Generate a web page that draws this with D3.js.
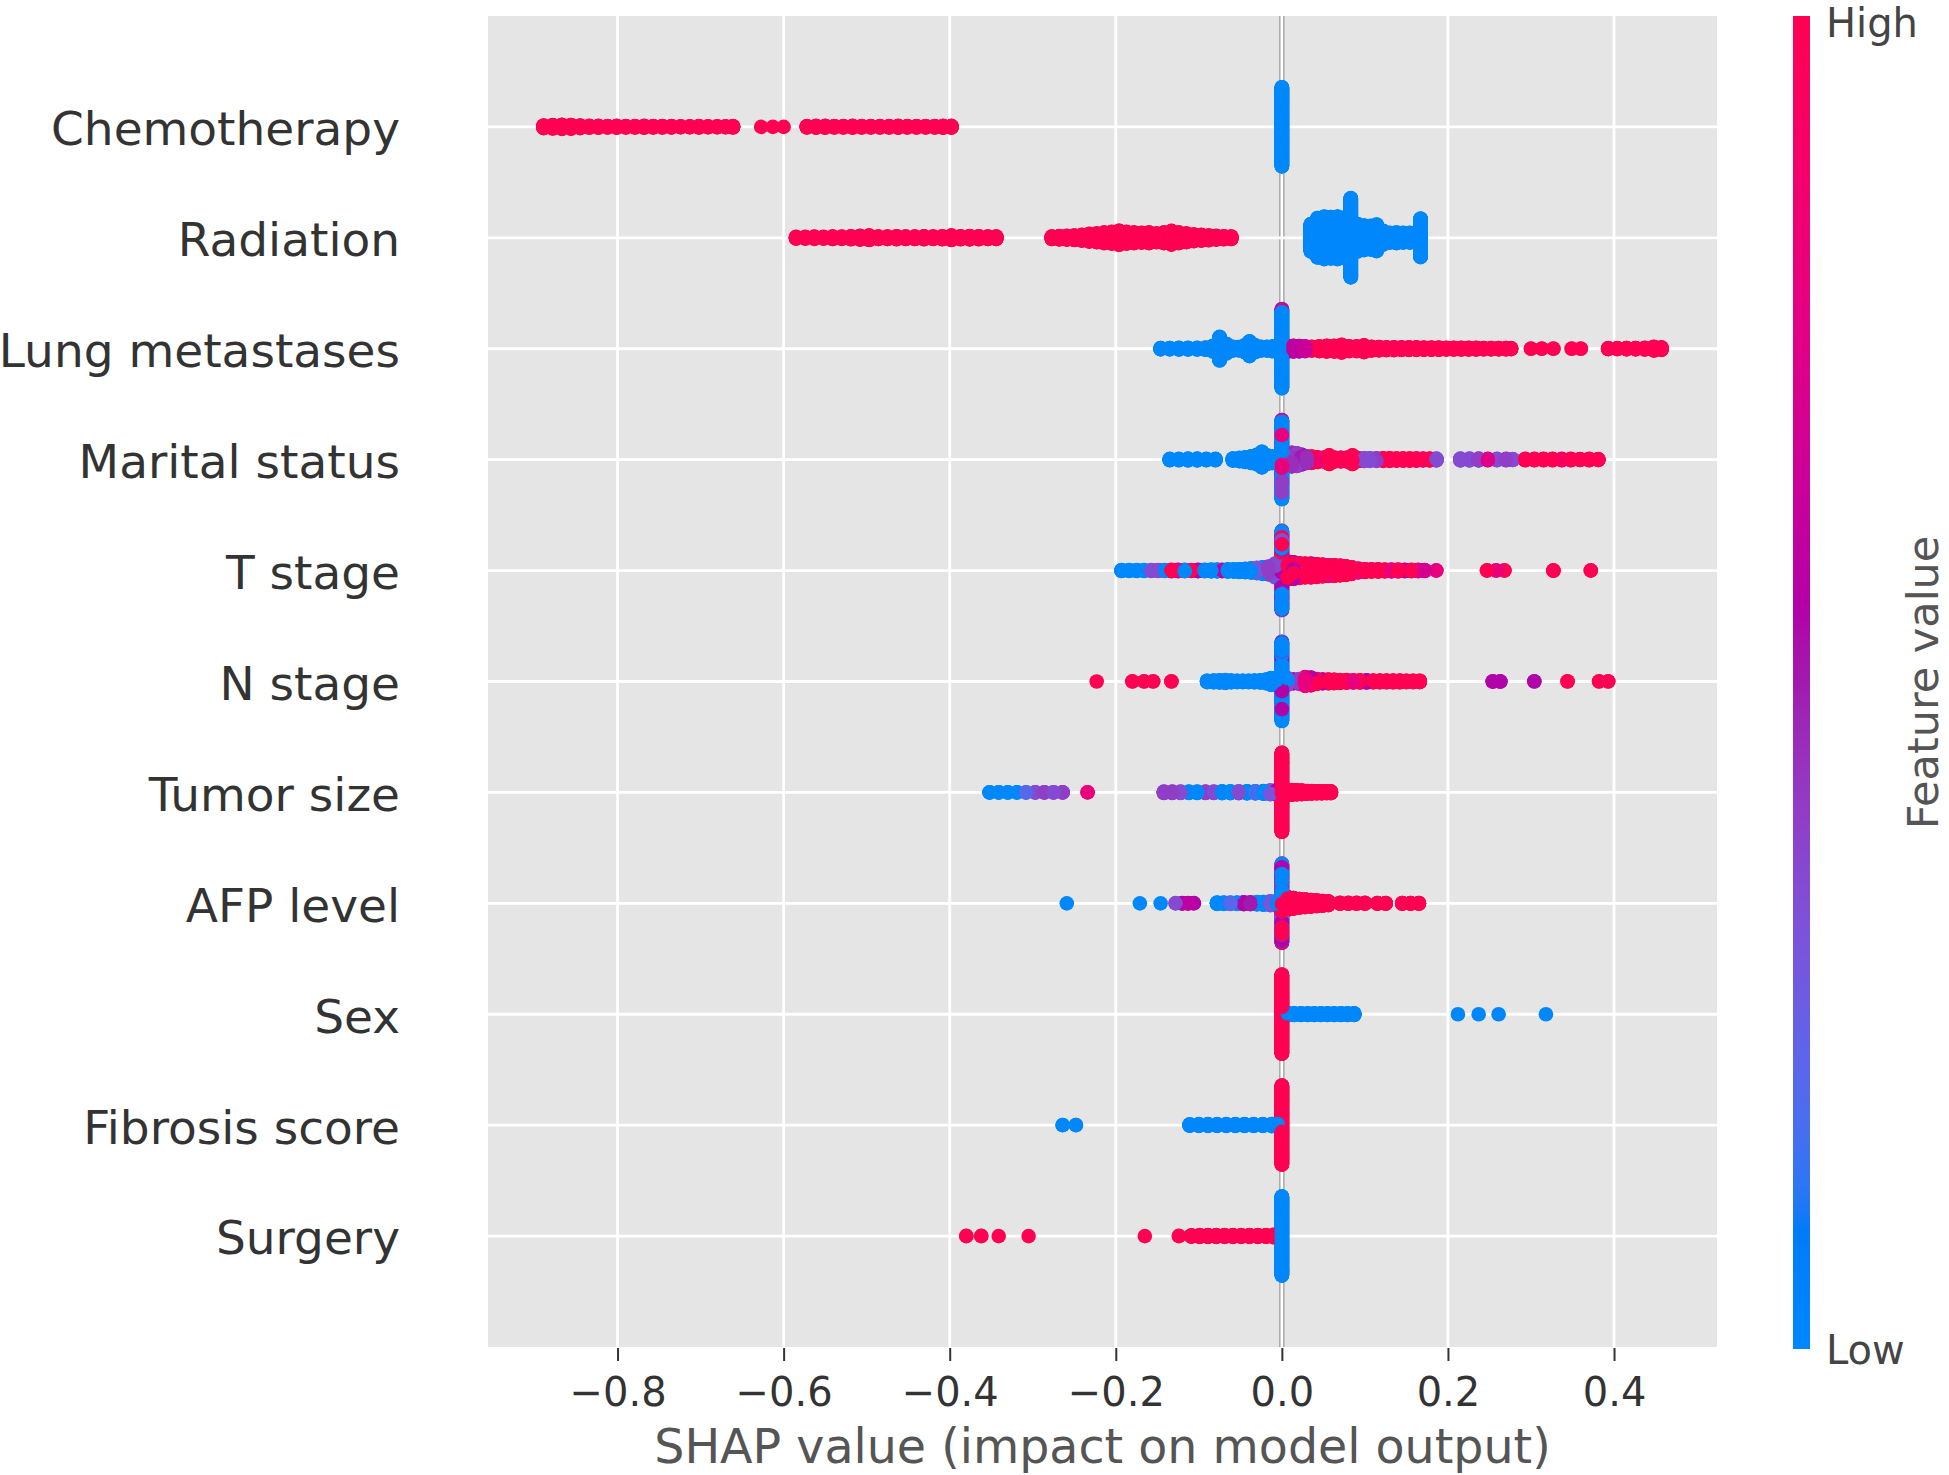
<!DOCTYPE html>
<html>
<head>
<meta charset="utf-8">
<script src="https://cdn.jsdelivr.net/npm/d3@7"></script>
<style>
  html, body { margin: 0; padding: 0; background: #ffffff; }
  svg { display: block; }
  text { font-family: "DejaVu Sans", sans-serif; }
</style>
</head>
<body>
<svg id="chart" width="1949" height="1475"></svg>
<script>
// ---------------- DATA ----------------
// Each entry: [SHAP value, normalised feature value (0 = low, 1 = high), number of samples]
const features = ["Chemotherapy", "Radiation", "Lung metastases", "Marital status", "T stage",
  "N stage", "Tumor size", "AFP level", "Sex", "Fibrosis score", "Surgery"];
const xTicks = [-0.8, -0.6, -0.4, -0.2, 0.0, 0.2, 0.4];
const colorbarLabels = ["Low", "High"];
const xLabel = "SHAP value (impact on model output)";
const colorbarTitle = "Feature value";

const chemotherapy = [
  [0.000, 0, 400],
  [-0.889, 1, 14], [-0.878, 1, 18], [-0.867, 1, 22], [-0.856, 1, 20], [-0.845, 1, 14], [-0.834, 1, 10],
  [-0.823, 1, 10], [-0.812, 1, 8], [-0.801, 1, 10], [-0.790, 1, 8], [-0.779, 1, 8], [-0.768, 1, 10],
  [-0.757, 1, 8], [-0.746, 1, 8], [-0.735, 1, 8], [-0.724, 1, 6], [-0.713, 1, 6], [-0.702, 1, 8],
  [-0.691, 1, 6], [-0.680, 1, 6], [-0.670, 1, 6], [-0.661, 1, 8],
  [-0.627, 1, 1], [-0.613, 1, 1], [-0.600, 1, 1],
  [-0.572, 1, 8], [-0.561, 1, 10], [-0.550, 1, 10], [-0.539, 1, 8], [-0.528, 1, 8], [-0.517, 1, 10],
  [-0.506, 1, 8], [-0.495, 1, 8], [-0.484, 1, 8], [-0.473, 1, 8], [-0.462, 1, 10], [-0.451, 1, 8],
  [-0.440, 1, 8], [-0.429, 1, 8], [-0.418, 1, 8], [-0.408, 1, 10], [-0.398, 1, 10]
];

const radiation = [
  [-0.585, 1, 10], [-0.574, 1, 10], [-0.563, 1, 12], [-0.552, 1, 10], [-0.541, 1, 14], [-0.530, 1, 12],
  [-0.519, 1, 16], [-0.508, 1, 20], [-0.497, 1, 24], [-0.486, 1, 14], [-0.475, 1, 14], [-0.464, 1, 16],
  [-0.453, 1, 14], [-0.442, 1, 14], [-0.431, 1, 16], [-0.420, 1, 14], [-0.409, 1, 16], [-0.398, 1, 24],
  [-0.387, 1, 16], [-0.376, 1, 18], [-0.365, 1, 16], [-0.354, 1, 14], [-0.344, 1, 14],
  [-0.277, 1, 14], [-0.268, 1, 18], [-0.259, 1, 20], [-0.250, 1, 24], [-0.241, 1, 30], [-0.232, 1, 40],
  [-0.223, 1, 45], [-0.214, 1, 55], [-0.205, 1, 60], [-0.196, 1, 72], [-0.187, 1, 60], [-0.178, 1, 55],
  [-0.169, 1, 50], [-0.160, 1, 55], [-0.151, 1, 45], [-0.142, 1, 55], [-0.133, 1, 70], [-0.124, 1, 55],
  [-0.115, 1, 45], [-0.106, 1, 35], [-0.097, 1, 30], [-0.088, 1, 25], [-0.079, 1, 20], [-0.070, 1, 16],
  [-0.061, 1, 14],
  [0.035, 0, 140], [0.043, 0, 200], [0.051, 0, 215], [0.059, 0, 210], [0.067, 0, 215], [0.075, 0, 205],
  [0.083, 0, 400], [0.091, 0, 140], [0.099, 0, 125], [0.107, 0, 120], [0.114, 0, 135], [0.122, 0, 70],
  [0.130, 0, 50], [0.138, 0, 55], [0.146, 0, 50], [0.154, 0, 50], [0.161, 0, 45], [0.167, 0, 195]
];

const lungMetastases = [
  [-0.146, 0, 8], [-0.135, 0, 8], [-0.124, 0, 10], [-0.113, 0, 10], [-0.102, 0, 10], [-0.092, 0, 12],
  [-0.083, 0, 30], [-0.075, 0, 120], [-0.067, 0, 50], [-0.059, 0, 20], [-0.052, 0, 18], [-0.045, 0, 35],
  [-0.039, 0, 75], [-0.032, 0, 35], [-0.025, 0, 20], [-0.018, 0, 20], [-0.011, 0, 25], [-0.005, 0, 30],
  [0.000, 0, 380], [0.000, 0.75, 20],
  [0.007, 0.55, 30], [0.014, 0.6, 30], [0.021, 0.55, 28], [0.028, 0.65, 25],
  [0.036, 1, 20], [0.045, 1, 25], [0.054, 1, 30], [0.063, 1, 30], [0.072, 1, 40], [0.081, 1, 25],
  [0.090, 1, 25], [0.099, 1, 35], [0.108, 1, 20], [0.117, 1, 18], [0.126, 1, 15], [0.135, 1, 15],
  [0.144, 1, 14], [0.153, 1, 14], [0.162, 1, 14], [0.171, 1, 12], [0.180, 1, 12], [0.189, 1, 12],
  [0.198, 1, 10], [0.207, 1, 10], [0.216, 1, 10], [0.225, 1, 10], [0.234, 1, 10], [0.243, 1, 8],
  [0.252, 1, 8], [0.261, 1, 8], [0.270, 1, 8], [0.276, 1, 6],
  [0.300, 1, 2], [0.313, 1, 2], [0.327, 1, 2], [0.349, 1, 2], [0.360, 1, 2],
  [0.393, 1, 6], [0.404, 1, 6], [0.415, 1, 8], [0.426, 1, 8], [0.437, 1, 10], [0.448, 1, 20], [0.457, 1, 14]
];

const maritalStatus = [
  [-0.135, 0, 8], [-0.124, 0, 8], [-0.113, 0, 10], [-0.102, 0, 10], [-0.091, 0, 8], [-0.080, 0, 8],
  [-0.059, 0, 12], [-0.051, 0, 18], [-0.044, 0, 25], [-0.037, 0, 35], [-0.030, 0, 50], [-0.024, 0, 80],
  [-0.018, 0, 45], [-0.011, 0, 35], [-0.005, 0, 30],
  [0.000, 0, 320], [0.000, 0.4, 40], [0.000, 0.8, 40],
  [0.006, 0.4, 60], [0.012, 0.45, 70], [0.018, 0.4, 65], [0.024, 0.5, 50], [0.030, 0.45, 35],
  [0.036, 1, 25], [0.036, 0.8, 8], [0.043, 1, 25], [0.050, 0.85, 20], [0.057, 1, 45], [0.064, 1, 20],
  [0.071, 0.9, 20], [0.078, 1, 20], [0.085, 1, 45], [0.092, 1, 15],
  [0.099, 0.35, 15], [0.106, 0.35, 14], [0.114, 0.4, 14], [0.122, 1, 14], [0.130, 1, 14], [0.138, 1, 12],
  [0.146, 1, 12], [0.154, 1, 12], [0.162, 1, 12], [0.170, 0.9, 10], [0.178, 1, 10], [0.186, 0.35, 10],
  [0.215, 0.35, 10], [0.226, 0.35, 10], [0.237, 0.4, 10], [0.248, 0.75, 8], [0.259, 0.35, 8],
  [0.270, 0.4, 8], [0.278, 0.35, 6],
  [0.293, 1, 8], [0.304, 1, 8], [0.315, 1, 8], [0.326, 1, 8], [0.337, 0.9, 8], [0.348, 1, 8],
  [0.359, 1, 6], [0.370, 1, 8], [0.381, 1, 6]
];

const tStage = [
  [-0.193, 0, 6], [-0.184, 0, 6], [-0.175, 0, 6], [-0.166, 0, 6], [-0.157, 0.35, 6], [-0.149, 0.35, 6],
  [-0.141, 0, 6], [-0.133, 1, 8], [-0.125, 0.8, 8], [-0.117, 0, 8], [-0.109, 1, 6], [-0.101, 0.55, 8],
  [-0.093, 0, 8], [-0.085, 0, 10], [-0.078, 0, 10], [-0.072, 0.6, 8], [-0.065, 0, 12], [-0.058, 0, 12],
  [-0.051, 0, 15], [-0.044, 0, 18], [-0.037, 0, 22], [-0.030, 0.3, 28], [-0.023, 0, 35], [-0.016, 0.4, 40],
  [-0.008, 0.35, 50], [-0.008, 0, 20],
  [0.000, 0, 200], [0.000, 0.55, 120], [0.000, 1, 40], [0.000, 0.3, 40],
  [0.007, 0.6, 50], [0.007, 1, 40], [0.014, 1, 60], [0.014, 0.55, 25], [0.021, 1, 60], [0.021, 0.8, 15],
  [0.028, 1, 70], [0.035, 1, 50], [0.035, 0.6, 20], [0.042, 1, 65], [0.049, 1, 60], [0.056, 0.8, 55],
  [0.063, 1, 55], [0.070, 1, 50], [0.077, 1, 45], [0.084, 1, 35], [0.092, 0.85, 20], [0.100, 1, 15],
  [0.108, 1, 12], [0.116, 1, 12], [0.124, 1, 10], [0.132, 0.8, 10], [0.140, 1, 10], [0.148, 0.6, 8],
  [0.156, 1, 8], [0.164, 0.75, 8], [0.172, 0.7, 6],
  [0.186, 0.8, 2], [0.247, 1, 2], [0.258, 0.8, 2], [0.268, 1, 2], [0.327, 1, 3], [0.372, 1, 2]
];

const nStage = [
  [-0.223, 1, 1], [-0.180, 1, 2], [-0.166, 1, 2], [-0.155, 1, 2], [-0.133, 1, 2],
  [-0.090, 0, 8], [-0.082, 0, 10], [-0.075, 0, 12], [-0.068, 0, 15], [-0.061, 0, 10], [-0.054, 0, 8],
  [-0.047, 0, 8], [-0.040, 0, 8], [-0.033, 0, 10], [-0.026, 0, 12], [-0.019, 0, 20], [-0.013, 0, 35],
  [-0.007, 0, 35],
  [0.000, 0, 340], [0.000, 0.55, 40], [0.000, 0.35, 20],
  [0.007, 0.35, 25], [0.007, 0, 8], [0.014, 0.55, 20], [0.021, 0.4, 25], [0.028, 0.8, 45], [0.035, 0.55, 25],
  [0.035, 1, 15], [0.042, 1, 25], [0.049, 0.55, 20], [0.056, 1, 20], [0.063, 1, 18], [0.070, 1, 15],
  [0.078, 1, 14], [0.086, 0.8, 12], [0.094, 1, 12], [0.102, 0.55, 12], [0.110, 1, 10], [0.118, 1, 10],
  [0.126, 1, 10], [0.134, 1, 10], [0.142, 1, 10], [0.150, 1, 8], [0.158, 1, 8], [0.166, 1, 8],
  [0.254, 0.55, 3], [0.263, 0.55, 3], [0.304, 0.55, 2], [0.344, 1, 2], [0.382, 1, 2], [0.393, 1, 2]
];

const tumorSize = [
  [-0.352, 0, 3], [-0.341, 0, 3], [-0.330, 0, 3], [-0.319, 0, 3], [-0.308, 0.2, 3], [-0.297, 0.35, 3],
  [-0.286, 0.4, 3], [-0.275, 0.35, 3], [-0.264, 0.4, 3], [-0.234, 0.8, 2],
  [-0.142, 0.4, 8], [-0.132, 0.4, 8], [-0.122, 0.35, 8], [-0.112, 0, 8], [-0.102, 0, 8], [-0.092, 0.4, 8],
  [-0.082, 0.35, 8], [-0.072, 0, 10], [-0.062, 0, 10], [-0.052, 0.35, 10], [-0.042, 0, 12],
  [-0.032, 0.15, 12], [-0.022, 0, 15], [-0.014, 0.3, 20], [-0.006, 0.6, 25],
  [0.000, 1, 380], [0.000, 0.8, 20],
  [0.006, 1, 30], [0.012, 1, 25], [0.018, 1, 22], [0.024, 1, 20], [0.030, 1, 15], [0.036, 1, 14],
  [0.042, 1, 12], [0.048, 1, 12], [0.054, 1, 10], [0.059, 1, 10]
];

const afpLevel = [
  [-0.259, 0, 1], [-0.171, 0, 1], [-0.146, 0, 1], [-0.128, 0.35, 2], [-0.120, 0.55, 3], [-0.113, 0.6, 3],
  [-0.106, 0.55, 2],
  [-0.078, 0, 8], [-0.070, 0, 8], [-0.062, 0.2, 8], [-0.054, 0, 8], [-0.046, 0.55, 10], [-0.038, 0.5, 10],
  [-0.030, 0, 12], [-0.022, 0, 15], [-0.014, 0.3, 20], [-0.006, 0, 25],
  [0.000, 0, 150], [0.000, 1, 120], [0.000, 0.55, 90], [0.000, 0.3, 40],
  [0.007, 1, 55], [0.007, 0.8, 10], [0.014, 1, 55], [0.021, 1, 45], [0.028, 1, 40], [0.035, 1, 35],
  [0.042, 1, 30], [0.049, 1, 25], [0.056, 1, 20],
  [0.070, 1, 6], [0.080, 1, 6], [0.090, 1, 6], [0.100, 1, 6], [0.115, 1, 5], [0.125, 1, 5],
  [0.145, 1, 5], [0.155, 1, 5], [0.165, 1, 5]
];

const sex = [
  [0.000, 1, 396], [0.000, 0, 4],
  [0.007, 0, 14], [0.015, 0, 10], [0.023, 0, 10], [0.031, 0, 10], [0.039, 0, 10], [0.047, 0, 10],
  [0.055, 0, 10], [0.063, 0, 10], [0.071, 0, 10], [0.079, 0, 10], [0.087, 0, 10],
  [0.212, 0, 1], [0.237, 0, 1], [0.261, 0, 1], [0.318, 0, 1]
];

const fibrosisScore = [
  [-0.264, 0, 2], [-0.248, 0, 2],
  [-0.111, 0, 8], [-0.100, 0, 10], [-0.089, 0, 10], [-0.078, 0, 10], [-0.067, 0, 10], [-0.056, 0, 10],
  [-0.045, 0, 10], [-0.034, 0, 10], [-0.023, 0, 10], [-0.012, 0, 12], [-0.005, 0, 12],
  [0.000, 1, 400]
];

const surgery = [
  [-0.380, 1, 2], [-0.362, 1, 2], [-0.341, 1, 1], [-0.305, 1, 1], [-0.165, 1, 1], [-0.124, 1, 2],
  [-0.109, 1, 8], [-0.099, 1, 10], [-0.089, 1, 10], [-0.079, 1, 10], [-0.069, 1, 10], [-0.059, 1, 10],
  [-0.049, 1, 10], [-0.039, 1, 10], [-0.029, 1, 10], [-0.019, 1, 10], [-0.010, 1, 12],
  [0.000, 0, 400]
];

const rowsData = [chemotherapy, radiation, lungMetastases, maritalStatus, tStage, nStage,
  tumorSize, afpLevel, sex, fibrosisScore, surgery];

// ---------------- LAYOUT ----------------
const W = 1949, H = 1475;
const plot = { left: 488, right: 1717, top: 16, bottom: 1347 };
const nRows = features.length;

const svg = d3.select("#chart");

const x = d3.scaleLinear().domain([-0.956, 0.524]).range([plot.left, plot.right]);
// SHAP-style y: row positions 0..n-1 from bottom, limits -1..n
const y = d3.scaleLinear().domain([-1, nRows]).range([plot.bottom, plot.top]);

// SHAP red-blue colormap (LCh interpolation)
function shapColor(t) {
  t = Math.max(0, Math.min(1, t));
  const l = t < 0.5 ? 54 + (40 - 54) * (t / 0.5) : 40 + (54 - 40) * ((t - 0.5) / 0.5);
  const c = 70 + 20 * t;
  const h0 = 4.6588, h1 = 0.35470565 + 2 * Math.PI;
  const h = (h0 + (h1 - h0) * t) * 180 / Math.PI;
  return d3.hcl(h, c, l).formatHex();
}

// deterministic pseudo-shuffle key (draw order only)
function hashKey(i, seed) {
  let v = (Math.imul(i + 1, 2654435761) ^ seed) >>> 0;
  v = Math.imul(v ^ (v >>> 16), 0x45d9f3b) >>> 0;
  v = Math.imul(v ^ (v >>> 16), 0x45d9f3b) >>> 0;
  return (v ^ (v >>> 16)) >>> 0;
}

// background
svg.append("rect").attr("x", 0).attr("y", 0).attr("width", W).attr("height", H).attr("fill", "#ffffff");
svg.append("rect")
  .attr("x", plot.left).attr("y", plot.top)
  .attr("width", plot.right - plot.left).attr("height", plot.bottom - plot.top)
  .attr("fill", "#e5e5e5");

// zero line (below grid)
svg.append("line")
  .attr("x1", x(0)).attr("x2", x(0)).attr("y1", plot.top).attr("y2", plot.bottom)
  .attr("stroke", "#999999").attr("stroke-width", 5.2);

// grid
const grid = svg.append("g");
grid.selectAll("line.vx").data(xTicks).join("line")
  .attr("x1", d => x(d)).attr("x2", d => x(d))
  .attr("y1", plot.top).attr("y2", plot.bottom)
  .attr("stroke", "#ffffff").attr("stroke-width", 2.8);
grid.selectAll("line.hy").data(d3.range(nRows)).join("line")
  .attr("x1", plot.left).attr("x2", plot.right)
  .attr("y1", d => y(d)).attr("y2", d => y(d))
  .attr("stroke", "#ffffff").attr("stroke-width", 2.8);

// beeswarm points
const dots = svg.append("g");
rowsData.forEach((entries, rowIdx) => {
  const pos = nRows - 1 - rowIdx;
  const pts = [];
  entries.forEach(([s, fv, n]) => { for (let k = 0; k < n; k++) pts.push({ s, fv }); });
  pts.forEach((p, i) => { p.key = hashKey(i, 0x9e3779b9 + rowIdx * 7919); p.drawKey = hashKey(i, 0x85ebca6b + rowIdx * 104729); });
  const mn = d3.min(pts, p => p.s), mx = d3.max(pts, p => p.s);
  const nbins = 100;
  pts.forEach(p => { p.q = Math.round(nbins * (p.s - mn) / (mx - mn + 1e-8)); });
  const sorted = pts.slice().sort((a, b) => a.q - b.q || a.key - b.key);
  let layer = 0, lastBin = -1;
  sorted.forEach(p => {
    if (p.q !== lastBin) layer = 0;
    p.ys = Math.ceil(layer / 2) * ((layer % 2) * 2 - 1);
    layer += 1;
    lastBin = p.q;
  });
  const maxYs = d3.max(pts, p => p.ys + 1);
  const f = 0.9 * (0.4 / maxYs);
  pts.forEach(p => { p.ys *= f; });
  pts.sort((a, b) => a.drawKey - b.drawKey);
  dots.append("g").selectAll("circle").data(pts).join("circle")
    .attr("cx", p => x(p.s))
    .attr("cy", p => y(pos + p.ys))
    .attr("r", 7.3)
    .attr("fill", p => shapColor(p.fv));
});

// x axis
const xAxis = d3.axisBottom(x).tickValues(xTicks).tickFormat(d3.format(".1f")).tickSize(13).tickPadding(0);
const gx = svg.append("g").attr("transform", `translate(0,${plot.bottom + 1})`).call(xAxis);
gx.select(".domain").remove();
gx.selectAll(".tick line").attr("stroke", "#333333").attr("stroke-width", 2);
gx.selectAll(".tick text")
  .attr("y", 58).attr("dy", 0)
  .attr("fill", "#333333")
  .style("font-family", "'DejaVu Sans', sans-serif")
  .style("font-size", "40px");

svg.append("text")
  .attr("x", (plot.left + plot.right) / 2).attr("y", 1463)
  .attr("text-anchor", "middle")
  .attr("fill", "#555555")
  .style("font-size", "47.5px")
  .text(xLabel);

// y labels
const yAxis = d3.axisLeft(y).tickValues(d3.range(nRows)).tickFormat(d => features[nRows - 1 - d]).tickSize(0).tickPadding(plot.left - 400);
const gy = svg.append("g").attr("transform", `translate(${plot.left},0)`).call(yAxis);
gy.select(".domain").remove();
gy.selectAll(".tick text")
  .attr("dy", "0.38em")
  .attr("fill", "#333333")
  .style("font-family", "'DejaVu Sans', sans-serif")
  .style("font-size", "47px");

// colorbar
const cb = { x: 1793, w: 17, top: 16, bottom: 1349 };
const defs = svg.append("defs");
const grad = defs.append("linearGradient").attr("id", "cbgrad")
  .attr("x1", 0).attr("y1", 1).attr("x2", 0).attr("y2", 0);
d3.range(0, 101).forEach(i => {
  grad.append("stop").attr("offset", (i / 100)).attr("stop-color", shapColor(i / 100));
});
svg.append("rect")
  .attr("x", cb.x).attr("y", cb.top).attr("width", cb.w).attr("height", cb.bottom - cb.top)
  .attr("fill", "url(#cbgrad)");
const cbScale = d3.scaleLinear().domain([0, 1]).range([cb.bottom, cb.top + 6]);
const cbAxis = d3.axisRight(cbScale).tickValues([0, 1]).tickFormat((d, i) => colorbarLabels[i]).tickSize(0).tickPadding(16);
const gcb = svg.append("g").attr("transform", `translate(${cb.x + cb.w},0)`).call(cbAxis);
gcb.select(".domain").remove();
gcb.selectAll(".tick text")
  .attr("dy", "0.36em")
  .attr("fill", "#444444")
  .style("font-family", "'DejaVu Sans', sans-serif")
  .style("font-size", "40px");

svg.append("text")
  .attr("transform", `translate(1938,${(cb.top + cb.bottom) / 2}) rotate(-90)`)
  .attr("text-anchor", "middle")
  .attr("fill", "#555555")
  .style("font-size", "43px")
  .text(colorbarTitle);
</script>
</body>
</html>
